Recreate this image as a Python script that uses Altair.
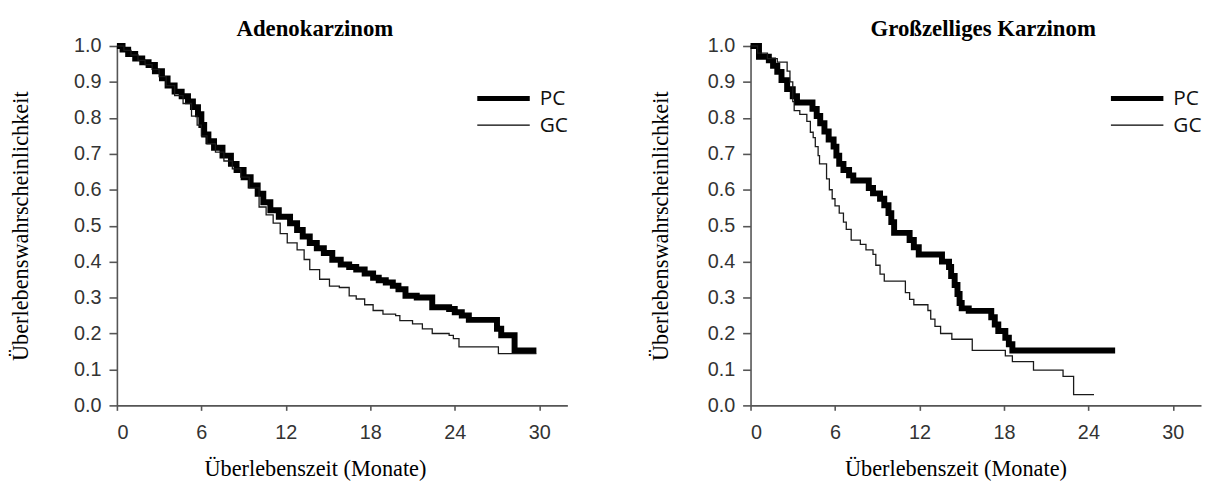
import altair as alt
import pandas as pd

series = ["PC", "GC"]
panel_titles = ["Adenokarzinom", "Großzelliges Karzinom"]
x_title = "Überlebenszeit (Monate)"
y_title = "Überlebenswahrscheinlichkeit"
x_ticks = [0, 6, 12, 18, 24, 30]
y_ticks = [0.0, 0.1, 0.2, 0.3, 0.4, 0.5, 0.6, 0.7, 0.8, 0.9, 1.0]

# Adenokarzinom, PC (thick)
adeno_pc_t = [0, 0.4, 0.8, 1.3, 1.8, 2.25, 2.7, 3.2, 3.6, 4.1, 4.6, 5.05, 5.4, 5.76, 6.0,
              6.2, 6.5, 6.9, 7.5, 8.1, 8.5, 9.0, 9.5, 10.0, 10.4, 10.9, 11.5, 12.3, 12.8,
              13.2, 13.7, 14.2, 14.7, 15.3, 15.9, 16.5, 17.0, 17.6, 18.2, 18.6, 19.1, 19.6,
              20.0, 20.5, 21.3, 22.4, 23.6, 24.0, 24.5, 25.0, 27.0, 27.3, 28.25, 29.8]
adeno_pc_s = [1.0, 0.99, 0.978, 0.965, 0.955, 0.947, 0.93, 0.91, 0.89, 0.873, 0.86, 0.846, 0.83, 0.81, 0.78,
              0.754, 0.735, 0.717, 0.695, 0.672, 0.655, 0.635, 0.612, 0.589, 0.565, 0.543, 0.525, 0.507, 0.488,
              0.47, 0.452, 0.437, 0.424, 0.405, 0.392, 0.385, 0.378, 0.367, 0.355, 0.348, 0.342, 0.333,
              0.323, 0.305, 0.3, 0.273, 0.268, 0.259, 0.25, 0.238, 0.213, 0.195, 0.153, 0.153]

# Adenokarzinom, GC (thin)
adeno_gc_t = [0, 0.5, 1.0, 1.5, 2.0, 2.5, 3.0, 3.5, 4.1, 4.7, 5.3, 5.7, 6.0, 6.4, 7.0, 7.6,
              8.2, 8.8, 9.4, 10.1, 10.6, 11.1, 11.6, 12.1, 12.8, 13.3, 13.7, 14.4, 15.1, 15.8,
              16.5, 17.0, 17.6, 18.2, 18.9, 19.8, 20.1, 21.0, 21.7, 22.4, 23.6, 23.9, 24.3,
              27.1, 29.8]
adeno_gc_s = [1.0, 0.988, 0.975, 0.96, 0.948, 0.935, 0.915, 0.89, 0.862, 0.84, 0.805, 0.78, 0.75, 0.728, 0.705, 0.68,
              0.658, 0.635, 0.605, 0.552, 0.53, 0.507, 0.478, 0.452, 0.433, 0.406, 0.378, 0.351, 0.332, 0.328,
              0.305, 0.296, 0.28, 0.264, 0.254, 0.25, 0.236, 0.227, 0.213, 0.2, 0.195, 0.186, 0.163,
              0.144, 0.144]

# Großzelliges Karzinom, PC (thick)
large_pc_t = [0, 0.6, 1.3, 1.6, 1.9, 2.2, 2.6, 3.0, 3.3, 4.4, 4.7, 4.95, 5.25, 5.55, 5.9, 6.1,
              6.3, 6.6, 7.0, 7.3, 8.4, 8.7, 9.2, 9.5, 9.8, 10.0, 10.2, 11.3, 11.6, 11.95, 13.6,
              14.1, 14.25, 14.5, 14.7, 14.85, 15.0, 15.5, 17.1, 17.35, 17.6, 18.1, 18.35, 18.6, 25.9]
large_pc_s = [1.0, 0.97, 0.96, 0.945, 0.928, 0.905, 0.88, 0.86, 0.843, 0.825, 0.805, 0.785, 0.762, 0.74, 0.72, 0.695,
              0.672, 0.655, 0.64, 0.626, 0.605, 0.59, 0.575, 0.557, 0.535, 0.51, 0.48, 0.46, 0.44, 0.42, 0.4,
              0.385, 0.36, 0.335, 0.31, 0.285, 0.27, 0.263, 0.245, 0.225, 0.207, 0.188, 0.17, 0.153, 0.153]

# Großzelliges Karzinom, GC (thin)
large_gc_t = [0, 0.5, 1.2, 1.9, 2.6, 2.8, 3.0, 3.1, 3.5, 4.0, 4.25, 4.45, 4.6, 4.8, 4.9, 5.4,
              5.6, 5.8, 6.0, 6.3, 6.6, 6.8, 7.15, 7.8, 8.2, 8.7, 8.9, 9.2, 9.5, 11.0, 11.3, 11.6,
              12.6, 12.8, 13.1, 13.5, 14.3, 15.75, 18.1, 18.6, 20.1, 22.2, 22.95, 24.4]
large_gc_s = [1.0, 0.98, 0.965, 0.955, 0.93, 0.9, 0.845, 0.82, 0.81, 0.79, 0.76, 0.745, 0.72, 0.695, 0.672, 0.63,
              0.6, 0.575, 0.555, 0.535, 0.51, 0.49, 0.46, 0.448, 0.433, 0.42, 0.39, 0.365, 0.346, 0.314, 0.295, 0.28,
              0.264, 0.24, 0.22, 0.2, 0.184, 0.153, 0.138, 0.122, 0.098, 0.081, 0.03, 0.03]

LINE_W = {"PC": 6, "GC": 1.3}
LEG_W = {"PC": 5, "GC": 1.3}
LEG_Y = {"PC": 53, "GC": 80}

AXIS_STYLE = dict(
    grid=False,
    domainColor="#555555", domainWidth=1.6,
    tickColor="#555555", tickWidth=1.6,
    labelFont="Liberation Sans", labelFontSize=20, labelColor="#333333",
    titleFont="Liberation Serif", titleFontSize=22.5, titleFontWeight="normal", titleColor="#000000",
)


def panel(title, t_pc, s_pc, t_gc, s_gc, title_x, ytitle_pad, xtitle_x):
    df = pd.DataFrame({
        "t": t_pc + t_gc,
        "s": s_pc + s_gc,
        "series": ["PC"] * len(t_pc) + ["GC"] * len(t_gc),
    })
    lines = alt.Chart(df).mark_line(interpolate="step-after", strokeJoin="miter").encode(
        x=alt.X("t:Q",
                scale=alt.Scale(domain=[0, 32], nice=False, zero=False),
                axis=alt.Axis(values=x_ticks, title=x_title, tickSize=5, labelPadding=12,
                              titlePadding=16, titleX=xtitle_x, format="d", **AXIS_STYLE)),
        y=alt.Y("s:Q",
                scale=alt.Scale(domain=[0, 1], nice=False),
                axis=alt.Axis(values=y_ticks, format=".1f", title=y_title, tickSize=8,
                              labelPadding=8, titlePadding=ytitle_pad, **AXIS_STYLE)),
        color=alt.Color("series:N", scale=alt.Scale(domain=series, range=["#000000", "#1a1a1a"]),
                        legend=None),
        strokeWidth=alt.StrokeWidth("series:N",
                                    scale=alt.Scale(domain=series, range=[LINE_W[s] for s in series]),
                                    legend=None),
    )
    layers = [lines]
    head = alt.Chart(pd.DataFrame({"title": [title]})).mark_text(
        font="Liberation Serif", fontSize=23, fontWeight="bold", color="#000000",
        align="center", baseline="middle").encode(
        x=alt.value(title_x), y=alt.value(-17.5), text="title:N")
    layers.append(head)
    for name in series:
        one = pd.DataFrame({"series": [name]})
        layers.append(alt.Chart(one).mark_rule(strokeWidth=LEG_W[name], color="#000000").encode(
            x=alt.value(364), x2=alt.value(417), y=alt.value(LEG_Y[name])))
        layers.append(alt.Chart(one).mark_text(align="left", baseline="middle", font="Open Sans",
                                               fontSize=21, color="#111111").encode(
            x=alt.value(427), y=alt.value(LEG_Y[name] + 1), text="series:N"))
    return alt.layer(*layers).properties(width=455, height=363)


left = panel(panel_titles[0], adeno_pc_t, adeno_pc_s, adeno_gc_t, adeno_gc_s, 200, 42, 200)
right = panel(panel_titles[1], large_pc_t, large_pc_s, large_gc_t, large_gc_s, 235, 35, 207)

chart = alt.hconcat(left, right, spacing=82).properties(
    padding={"left": 1, "top": 7, "right": 0, "bottom": 0}
).configure_view(stroke=None)

chart.save("out.html", embed_options={"renderer": "svg", "actions": False})
